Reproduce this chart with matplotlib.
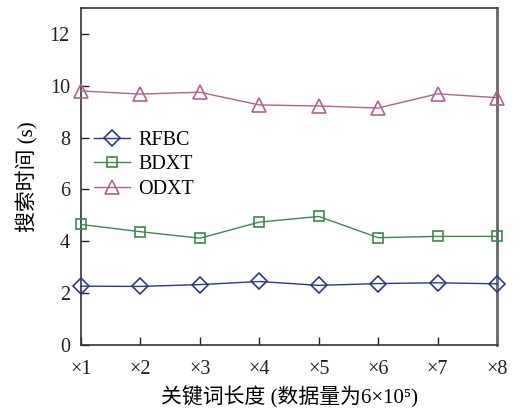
import matplotlib
matplotlib.use("Agg")
import matplotlib.pyplot as plt

plt.rcParams['font.family'] = ['Liberation Serif', 'Noto Sans CJK SC', 'DejaVu Sans']

categories = ['×1', '×2', '×3', '×4', '×5', '×6', '×7', '×8']
rfbc = [2.27, 2.26, 2.33, 2.45, 2.30, 2.37, 2.40, 2.36]
bdxt = [4.65, 4.37, 4.12, 4.74, 4.96, 4.14, 4.19, 4.19]
odxt = [9.80, 9.68, 9.75, 9.26, 9.22, 9.14, 9.69, 9.54]
yticks = [0, 2, 4, 6, 8, 10, 12]

fig = plt.figure(figsize=(5.2, 4.12), dpi=100)
ax = fig.add_axes([0.1558, 0.1626, 0.8, 0.818])

x = list(range(1, len(categories) + 1))
ax.plot(x, rfbc, color='#2b3a86', lw=1.0, marker='D', ms=8, mfc='none',
        mec='#2b3a86', mew=1.2, label='RFBC', clip_on=False, zorder=3)
ax.plot(x, bdxt, color='#3a8a4c', lw=1.0, marker='s', ms=7.5, mfc='none',
        mec='#3a8a4c', mew=1.2, label='BDXT', clip_on=False, zorder=3)
ax.plot(x, odxt, color='#b0628f', lw=1.0, marker='^', ms=10, mfc='none',
        mec='#b0628f', mew=1.2, label='ODXT', clip_on=False, zorder=3)

ax.set_xlim(1, 8)
ax.set_ylim(0, 13)
ax.set_xticks(x)
ax.set_xticklabels(categories)
ax.set_yticks(yticks)
ax.tick_params(direction='in', length=6, width=1, labelsize=14.5, colors='#222222',
               top=False, right=False)
ax.tick_params(axis='x', pad=11)
ax.tick_params(axis='y', pad=8)

for side in ['left', 'bottom', 'top']:
    ax.spines[side].set_color('#333333')
    ax.spines[side].set_linewidth(1.2)
ax.spines['right'].set_color('#666666')
ax.spines['right'].set_linewidth(2.0)

ax.set_ylabel('搜索时间 (s)', fontsize=15, labelpad=8)
ax.set_xlabel('关键词长度 (数据量为6×10⁵)', fontsize=15, labelpad=5)

leg = ax.legend(loc='upper left', bbox_to_anchor=(-0.012, 0.688), frameon=False,
                fontsize=14.5, handlelength=1.8, labelspacing=0.25, handletextpad=0.4)

fig.savefig('out.png', dpi=100)
